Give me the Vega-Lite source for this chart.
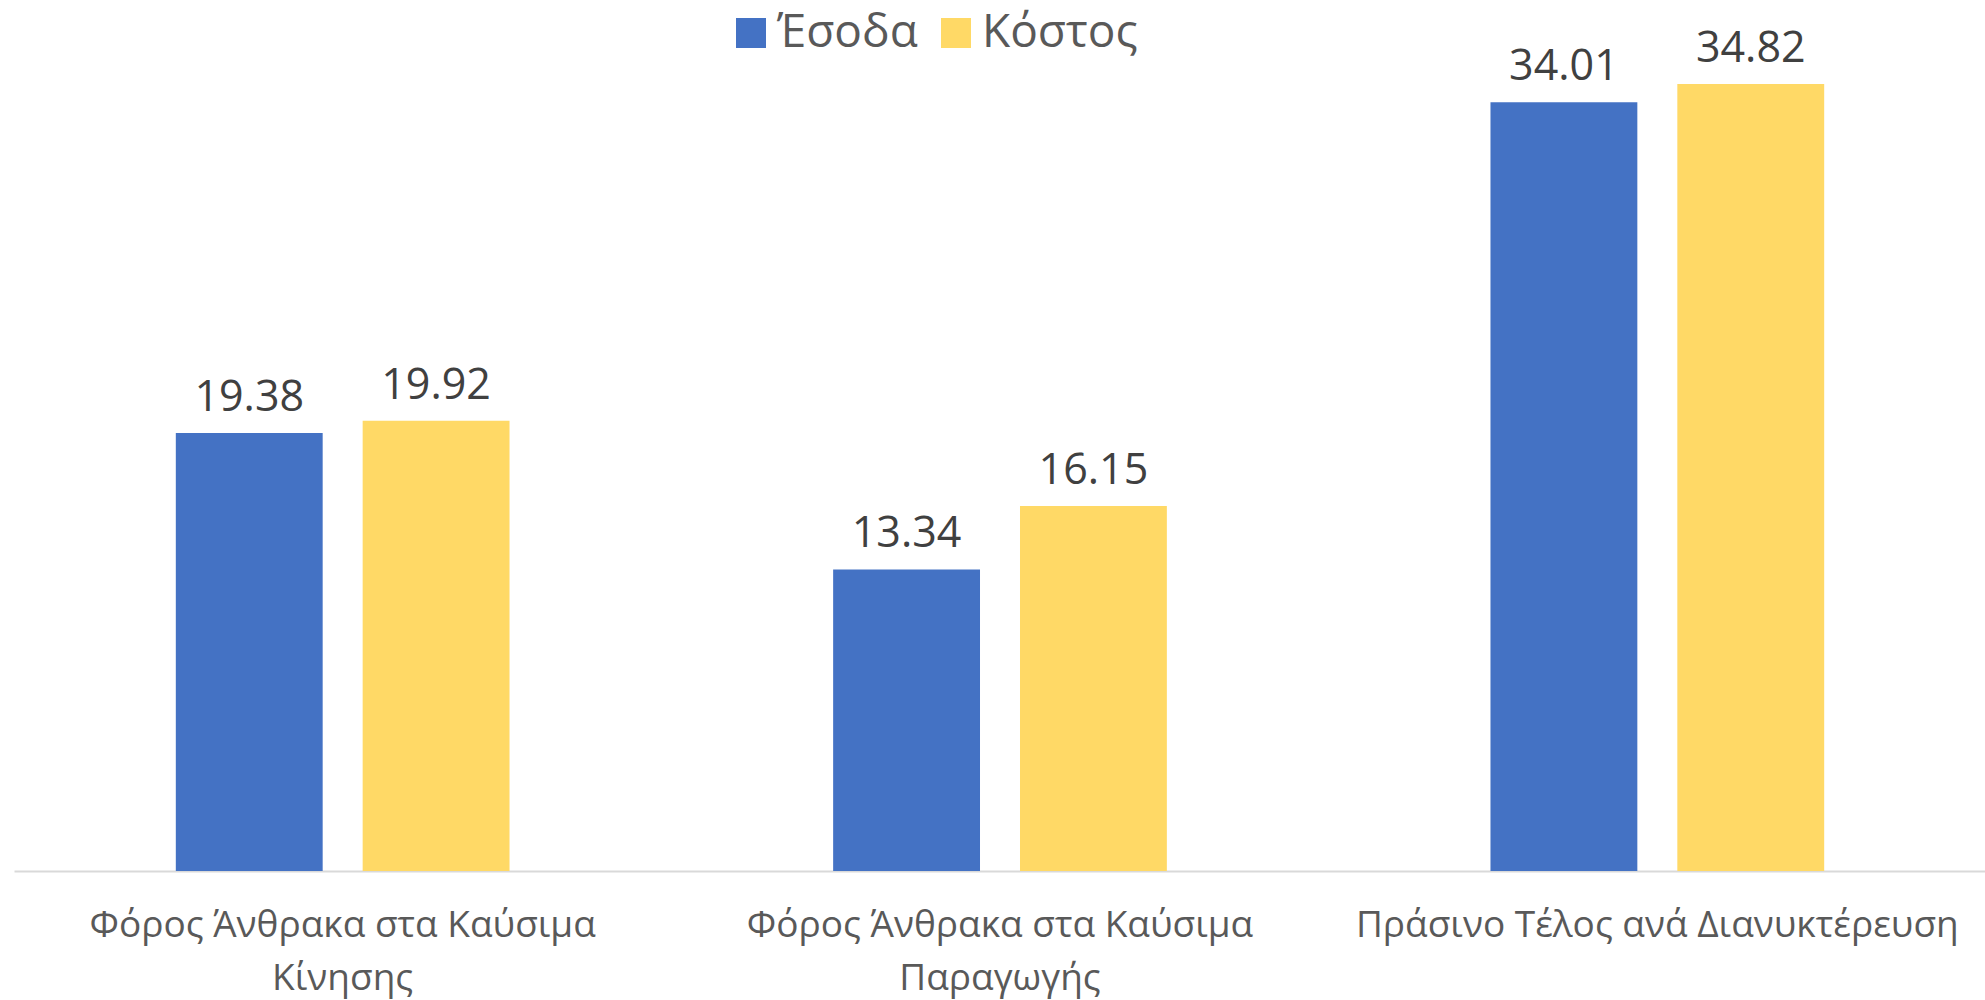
{
  "$schema": "https://vega.github.io/schema/vega-lite/v6.json",
  "width": 1972,
  "height": 859,
  "autosize": {"type": "none"},
  "padding": {"left": 14, "top": 12, "right": 0, "bottom": 129},
  "background": "white",
  "config": {"view": {"stroke": null}, "font": "Open Sans"},
  "data": {
    "values": [
      {"cat": "Φόρος Άνθρακα στα Καύσιμα|Κίνησης", "series": "Έσοδα", "value": 19.38},
      {"cat": "Φόρος Άνθρακα στα Καύσιμα|Κίνησης", "series": "Κόστος", "value": 19.92},
      {"cat": "Φόρος Άνθρακα στα Καύσιμα|Παραγωγής", "series": "Έσοδα", "value": 13.34},
      {"cat": "Φόρος Άνθρακα στα Καύσιμα|Παραγωγής", "series": "Κόστος", "value": 16.15},
      {"cat": "Πράσινο Τέλος ανά Διανυκτέρευση", "series": "Έσοδα", "value": 34.01},
      {"cat": "Πράσινο Τέλος ανά Διανυκτέρευση", "series": "Κόστος", "value": 34.82}
    ]
  },
  "encoding": {
    "x": {
      "field": "cat", "type": "nominal", "sort": null,
      "scale": {"paddingInner": 0, "paddingOuter": 0},
      "axis": {
        "title": null, "domainColor": "#d9d9d9", "domainWidth": 2, "ticks": false,
        "labelAngle": 0, "labelFontSize": 37, "labelColor": "#595959", "labelLimit": 0,
        "labelPadding": 36, "labelLineHeight": 53, "labelExpr": "split(datum.label, '|')"
      }
    },
    "xOffset": {
      "field": "series", "type": "nominal", "sort": ["Έσοδα", "Κόστος"],
      "scale": {"paddingInner": 0.214, "paddingOuter": 0.866}
    },
    "y": {"field": "value", "type": "quantitative", "scale": {"domain": [0, 38]}, "axis": null}
  },
  "layer": [
    {
      "mark": {"type": "bar"},
      "encoding": {
        "color": {
          "field": "series", "type": "nominal",
          "scale": {"domain": ["Έσοδα", "Κόστος"], "range": ["#4472C4", "#FFD966"]},
          "legend": {
            "orient": "none", "legendX": 714, "legendY": -2, "direction": "horizontal",
            "title": null, "symbolType": "square", "symbolSize": 900, "symbolStrokeWidth": 0,
            "labelFontSize": 46, "labelColor": "#595959", "labelOffset": 3, "labelLimit": 0,
            "columnPadding": 15, "padding": 0
          }
        }
      }
    },
    {
      "mark": {"type": "text", "dy": -22, "baseline": "alphabetic", "fontSize": 43, "color": "#404040"},
      "encoding": {"text": {"field": "value", "type": "quantitative", "format": ".2f"}}
    }
  ]
}
